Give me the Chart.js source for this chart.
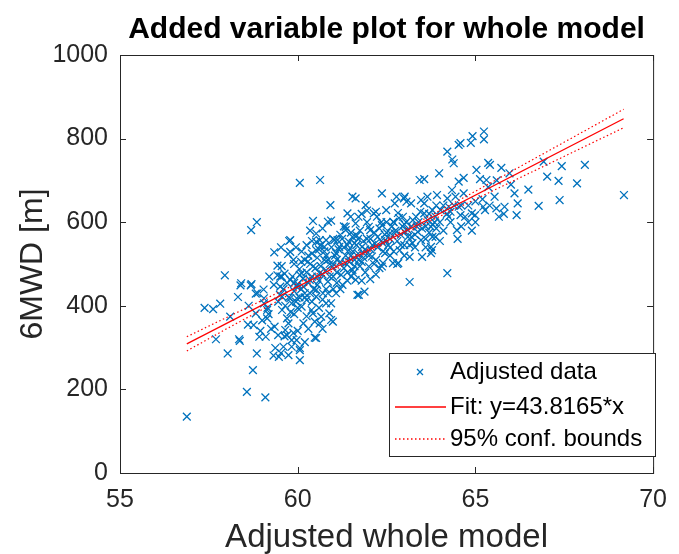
<!DOCTYPE html>
<html>
<head>
<meta charset="utf-8">
<title>Added variable plot for whole model</title>
<script src="https://cdn.jsdelivr.net/npm/chart.js@4.4.1/dist/chart.umd.min.js"></script>
<style>
  html, body { margin: 0; padding: 0; background: #fff; }
  #wrap { width: 679px; height: 554px; }
</style>
</head>
<body>
<div id="wrap"><canvas id="avp" width="679" height="554"></canvas></div>
<script>
// adjusted data
const adjX = [
  56.88,57.38,57.62,57.82,57.70,57.95,58.03,58.10,58.32,58.35,
  58.37,58.39,58.57,58.62,58.68,58.69,58.74,58.85,58.82,58.85,
  58.92,59.04,59.09,59.10,58.41,58.70,58.95,58.76,58.60,59.00,
  59.15,59.05,59.20,59.18,58.87,59.33,59.50,58.82,59.14,59.14,
  59.56,59.70,59.74,59.70,59.88,59.97,60.20,60.52,59.37,59.60,
  59.83,60.06,59.47,59.74,60.06,59.97,60.25,60.43,60.62,60.89,
  60.99,60.80,61.08,60.52,61.26,60.16,59.79,59.05,59.32,59.53,
  60.48,59.63,59.34,59.53,59.76,59.73,60.11,59.43,59.63,59.43,
  60.06,60.63,60.92,61.54,60.43,60.85,60.94,61.40,61.49,61.35,
  60.52,59.79,59.88,60.29,60.62,60.75,60.52,61.03,61.17,61.44,
  59.51,59.79,60.06,64.21,64.39,63.98,63.43,63.56,61.63,61.91,
  62.37,62.78,63.06,63.56,63.92,64.34,64.53,64.67,64.48,63.78,
  63.23,62.60,62.04,61.71,62.23,62.82,63.33,63.88,64.25,64.53,
  61.54,62.40,62.87,63.50,61.85,63.15,63.75,64.21,63.15,62.04,
  61.68,61.88,62.68,62.40,61.57,64.92,65.24,65.24,64.87,64.53,
  64.58,64.35,65.36,65.41,65.73,65.96,66.92,67.02,65.03,65.13,
  64.67,65.36,65.31,66.10,66.49,66.19,66.16,66.78,65.82,65.54,
  65.59,65.66,65.22,65.27,64.99,64.58,64.21,64.44,63.65,62.83,
  63.75,63.88,63.01,63.24,63.56,62.73,63.01,63.47,63.79,64.02,
  64.25,64.71,64.90,67.43,68.08,67.34,67.86,69.18,67.37,65.00,
  64.80,64.60,61.95,62.14,62.49,62.99,63.19,59.79,60.52,60.80,
  61.12,61.35,61.63,61.66,62.00,62.37,62.69,62.96,63.66,63.75,
  63.38,63.10,62.73,62.46,62.18,61.81,61.44,61.08,60.75,60.43,
  60.11,59.51,59.56,59.83,60.11,60.39,60.66,60.94,60.48,60.16,
  59.65,59.83,60.06,60.94,61.72,61.63,61.22,60.85,60.71,60.52,
  60.20,59.97,60.34,60.62,60.98,61.35,61.72,62.09,62.46,63.15,
  63.47,63.79,62.37,62.00,61.54,
  59.60,59.70,59.75,59.85,59.90,59.95,60.00,60.05,60.10,60.15,
  60.20,60.25,60.30,60.35,60.40,60.45,60.50,60.55,60.60,60.65,
  60.70,60.75,60.80,60.85,60.90,60.95,61.00,61.05,61.10,61.15,
  61.20,61.25,61.30,61.35,61.40,61.45,61.50,61.55,61.60,61.65,
  61.70,61.75,61.80,61.85,61.90,61.95,62.00,62.05,62.10,62.15,
  62.20,62.25,62.30,62.35,62.40,62.45,62.50,62.55,62.60,62.65,
  62.70,62.75,62.80,62.85,62.90,62.95,63.00,63.05,63.10,63.20,
  63.30,63.40,63.50,63.60,63.70,63.80,63.90,64.00,64.10,64.20,
  64.30,64.40,64.60,64.80,65.00,65.20,65.40,65.60,65.80,66.00,
  60.30,60.60,61.00,61.30,61.80,62.20,60.20,59.90,60.40,61.10,
  61.50,61.90,62.30,62.60,63.00,63.30,60.80,60.40,60.00,59.80,
  60.70,61.20,61.60,62.80,63.60,64.00,63.90,64.50,64.90,
  60.10,60.25,60.40,60.55,60.65,60.80,60.90,61.00,61.10,61.20,
  61.30,61.40,61.50,61.60,61.70,61.75,61.85,61.95,62.05,62.15,
  62.25,62.35,62.50,62.60,62.70,62.90,63.00,63.20,63.35,63.45,
  63.60,63.70,63.85,64.10,64.30,60.35,60.55,60.85,60.05,59.90,
  59.65,59.55,59.45,59.90,60.25,60.60,61.00,61.40,61.80,62.20,
  59.35,59.45,59.25,60.30,60.70,60.00,59.55,59.95,60.35,60.70
];
const adjY = [
  135,395,392,405,320,473,286,374,421,320,
  316,449,194,400,449,581,246,600,429,286,
  326,439,181,326,454,452,340,354,355,365,
  395,418,470,380,430,450,426,382,390,370,
  390,370,358,330,335,318,313,323,299,302,
  302,299,278,282,270,418,414,382,358,382,
  362,406,430,422,450,446,418,406,281,287,
  324,327,528,540,555,524,530,496,477,473,
  694,701,641,661,603,601,604,621,613,589,
  573,529,510,506,557,541,533,557,541,553,
  470,462,474,769,741,717,701,703,657,641,
  669,661,649,645,665,677,697,669,581,533,
  550,574,581,613,613,622,613,613,637,637,
  565,550,533,517,526,517,526,478,457,464,
  426,434,502,502,478,806,817,798,790,785,
  789,750,742,737,730,717,745,709,725,703,
  706,684,701,669,678,645,617,639,637,661,
  633,613,637,629,617,617,657,661,661,502,
  541,565,577,605,621,645,661,653,629,629,
  613,613,621,734,737,699,693,665,653,650,
  600,640,628,621,629,657,645,557,553,557,
  557,581,597,568,589,593,601,613,605,589,
  577,581,573,557,549,541,533,526,510,494,
  478,446,422,406,398,390,374,366,362,358,
  342,318,294,406,426,462,474,458,430,438,
  430,446,462,478,494,502,510,518,526,545,
  557,565,494,494,486,
  440,455,420,470,435,410,452,488,440,465,
  420,480,455,500,470,440,490,515,460,495,
  475,530,485,510,470,540,500,520,480,535,
  505,560,490,520,545,505,575,530,510,545,
  525,580,505,555,535,600,520,560,545,575,
  510,540,585,555,530,570,600,545,560,590,
  530,580,555,610,570,590,545,600,565,590,
  570,600,585,560,620,595,640,600,580,620,
  600,640,590,640,600,655,640,700,620,690,
  520,535,560,590,620,625,510,500,525,455,
  470,480,490,520,520,540,440,410,395,385,
  415,440,495,500,540,555,585,560,580,
  505,545,555,470,545,520,500,470,510,570,
  540,480,520,550,560,495,515,560,535,500,
  565,600,575,540,600,545,595,565,590,625,
  590,575,600,640,625,430,450,430,420,455,
  400,470,410,380,375,395,440,460,460,475,
  350,330,345,345,345,340,495,540,580,585
];

// fitted line and 95% bounds
const fitX = [56.88, 69.17];
const fitY = [309, 847.5];
const boundX = [56.88, 58, 59, 60, 61, 62, 63, 64, 65, 66, 67, 68, 69.17];
const upperY = [326, 372, 413, 454, 495, 537, 582, 628, 674, 721, 768, 815, 870];
const lowerY = [292, 345, 391, 438, 484, 529, 572, 614, 655, 696, 737, 778, 826];

const xTicks = [55, 60, 65, 70];
const yTicks = [0, 200, 400, 600, 800, 1000];

const BLUE = 'rgb(0,114,189)';
const RED = 'rgb(255,0,0)';
const AXIS = '#262626';
const FONT = '"Liberation Sans", Arial, Helvetica, sans-serif';

const toPts = (xs, ys) => xs.map((x, i) => ({ x: x, y: ys[i] }));

// box around the axes with inward ticks on all four sides
const axesBox = {
  id: 'axesBox',
  afterDatasetsDraw(chart) {
    const { ctx, chartArea: a, scales } = chart;
    const len = 6;
    ctx.save();
    ctx.strokeStyle = AXIS;
    ctx.lineWidth = 1;
    ctx.strokeRect(a.left + 0.5, a.top + 0.5, a.right - a.left, a.bottom - a.top);
    ctx.beginPath();
    xTicks.forEach((v) => {
      const px = Math.round(scales.x.getPixelForValue(v)) + 0.5;
      ctx.moveTo(px, a.bottom); ctx.lineTo(px, a.bottom - len);
      ctx.moveTo(px, a.top); ctx.lineTo(px, a.top + len);
    });
    yTicks.forEach((v) => {
      const py = Math.round(scales.y.getPixelForValue(v)) + 0.5;
      ctx.moveTo(a.left, py); ctx.lineTo(a.left + len, py);
      ctx.moveTo(a.right, py); ctx.lineTo(a.right - len, py);
    });
    ctx.stroke();
    ctx.restore();
  },
};

// legend in the lower right corner, like matlab's
const boxLegend = {
  id: 'boxLegend',
  afterDraw(chart) {
    const { ctx } = chart;
    const left = 389, top = 353, w = 266, h = 103;
    ctx.save();
    ctx.setLineDash([]);
    ctx.fillStyle = '#fff';
    ctx.fillRect(left, top, w, h);
    ctx.strokeStyle = AXIS;
    ctx.lineWidth = 1;
    ctx.strokeRect(left + 0.5, top + 0.5, w, h);

    const rows = [372, 407, 439];
    const labels = ['Adjusted data', 'Fit: y=43.8165*x', '95% conf. bounds'];

    // small cross marker
    ctx.strokeStyle = BLUE;
    ctx.lineWidth = 1.3;
    ctx.beginPath();
    ctx.moveTo(417, rows[0] - 3); ctx.lineTo(423, rows[0] + 3);
    ctx.moveTo(423, rows[0] - 3); ctx.lineTo(417, rows[0] + 3);
    ctx.stroke();

    // red samples, 2px wide so they keep their colour
    ctx.strokeStyle = RED;
    ctx.lineWidth = 1.6;
    ctx.beginPath();
    ctx.moveTo(395, rows[1]); ctx.lineTo(446, rows[1]);
    ctx.stroke();

    ctx.lineWidth = 1.6;
    ctx.setLineDash([1.5, 2.5]);
    ctx.beginPath();
    ctx.moveTo(395, rows[2]); ctx.lineTo(446, rows[2]);
    ctx.stroke();
    ctx.setLineDash([]);

    ctx.fillStyle = '#000';
    ctx.font = '24px ' + FONT;
    ctx.textBaseline = 'middle';
    ctx.textAlign = 'left';
    labels.forEach((t, i) => ctx.fillText(t, 450, rows[i]));
    ctx.restore();
  },
};

new Chart(document.getElementById('avp'), {
  type: 'scatter',
  data: {
    datasets: [
      {
        label: 'Adjusted data',
        data: toPts(adjX, adjY),
        pointStyle: 'crossRot',
        pointRadius: 5.5,
        pointBorderWidth: 1.3,
        borderColor: BLUE,
        backgroundColor: BLUE,
        order: 2,
      },
      {
        label: 'Fit: y=43.8165*x',
        data: toPts(fitX, fitY),
        showLine: true,
        borderColor: RED,
        borderWidth: 1.3,
        pointRadius: 0,
        order: 1,
      },
      {
        label: '95% conf. bounds',
        data: toPts(boundX, upperY),
        showLine: true,
        borderColor: RED,
        borderWidth: 1.2,
        borderDash: [1.5, 2.5],
        pointRadius: 0,
        order: 1,
      },
      {
        label: 'lower bound',
        data: toPts(boundX, lowerY),
        showLine: true,
        borderColor: RED,
        borderWidth: 1.2,
        borderDash: [1.5, 2.5],
        pointRadius: 0,
        order: 1,
      },
    ],
  },
  options: {
    responsive: false,
    animation: false,
    devicePixelRatio: 1,
    layout: { padding: { left: 0, right: 16, top: 0, bottom: 0 } },
    plugins: {
      legend: { display: false },
      tooltip: { enabled: false },
      title: {
        display: true,
        text: 'Added variable plot for whole model',
        fullSize: false,
        color: '#000',
        font: { family: FONT, size: 30, weight: 'bold', lineHeight: 1.2 },
        padding: { top: 12, bottom: 7 },
      },
    },
    scales: {
      x: {
        type: 'linear',
        min: 55,
        max: 70,
        afterBuildTicks: (s) => { s.ticks = xTicks.map((v) => ({ value: v })); },
        afterFit: (s) => { s.height = 81; },
        grid: { display: false, drawTicks: false },
        border: { display: false },
        ticks: {
          color: AXIS,
          padding: 12,
          font: { family: FONT, size: 25 },
          callback: (v) => String(v),
        },
        title: {
          display: true,
          text: 'Adjusted whole model',
          color: AXIS,
          font: { family: FONT, size: 33, lineHeight: 1 },
          padding: { top: 0, bottom: 0 },
        },
      },
      y: {
        type: 'linear',
        min: 0,
        max: 1000,
        afterBuildTicks: (s) => { s.ticks = yTicks.map((v) => ({ value: v })); },
        afterFit: (s) => { s.width = 120; },
        grid: { display: false, drawTicks: false },
        border: { display: false },
        ticks: {
          color: AXIS,
          padding: 12,
          font: { family: FONT, size: 25 },
          callback: (v) => String(v),
        },
        title: {
          display: true,
          text: '6MWD [m]',
          color: AXIS,
          font: { family: FONT, size: 32, lineHeight: 1 },
          padding: { top: 17, bottom: 0 },
        },
      },
    },
  },
  plugins: [axesBox, boxLegend],
});
</script>
</body>
</html>
